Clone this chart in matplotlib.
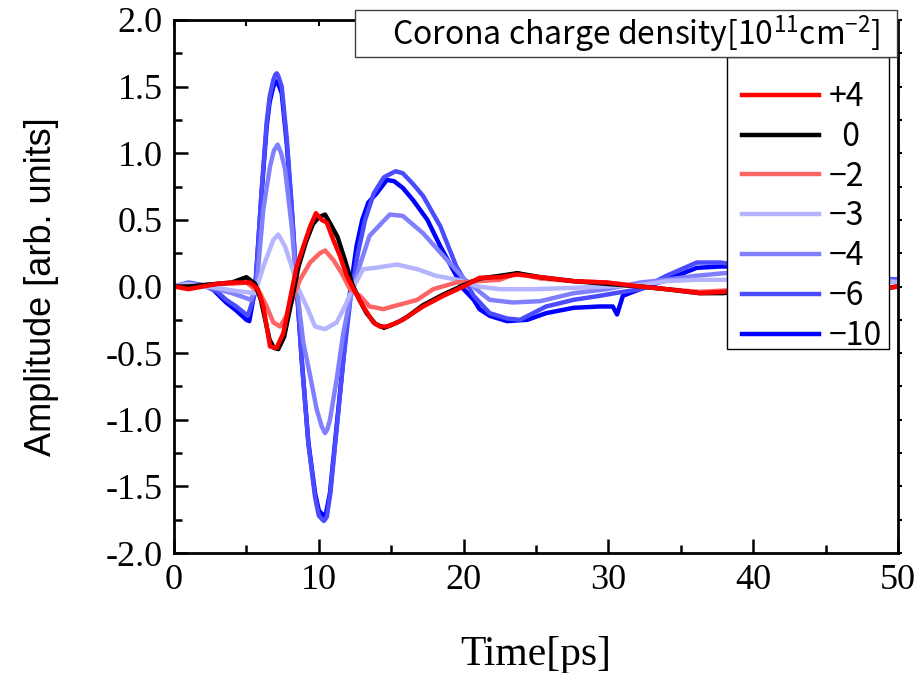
import matplotlib
matplotlib.use("Agg")
import matplotlib.pyplot as plt
from matplotlib.patches import Rectangle
from matplotlib.ticker import MultipleLocator, FormatStrFormatter, NullFormatter

plt.rcParams["axes.unicode_minus"] = False
plt.rcParams["mathtext.fontset"] = "custom"
plt.rcParams["mathtext.rm"] = "Noto Sans CJK JP"
plt.rcParams["mathtext.default"] = "rm"

SANS = ["Noto Sans CJK JP", "DejaVu Sans"]
SERIF = "Liberation Serif"

# ---------- data (time in ps, amplitude arb. units) ----------
t_p4 = [0, 1, 2, 3, 4, 4.33, 5.25, 5.8, 6.17, 6.4, 6.63, 7.09, 7.55, 8.0, 8.47, 8.93,
        9.4, 9.8, 10.2, 10.55, 11.0, 11.46, 11.93, 12.4, 13.07, 13.77, 14.2, 14.7,
        15.2, 15.8, 16.5, 17.2, 18.6, 20, 21.1, 22.5, 23.7, 25.3, 27.6, 29.9, 32.2,
        34, 36.3, 37.9, 40, 44, 48, 50]
v_p4 = [0, -0.02, 0.0, 0.02, 0.03, 0.03, 0.03, -0.02, -0.15, -0.3, -0.45, -0.46,
        -0.35, -0.1, 0.15, 0.3, 0.45, 0.55, 0.5, 0.48, 0.35, 0.23, 0.08, -0.02,
        -0.15, -0.27, -0.3, -0.3, -0.28, -0.25, -0.2, -0.15, -0.07, 0.0, 0.065,
        0.07, 0.09, 0.07, 0.04, 0.03, 0.0, -0.02, -0.05, -0.04, -0.03, -0.03,
        -0.03, 0.0]

t_0 = [0, 1, 2, 3, 4, 5.0, 5.6, 6.0, 6.3, 6.6, 6.9, 7.2, 7.6, 8.1, 8.6, 9.1, 9.6,
       10.0, 10.43, 10.9, 11.3, 11.8, 12.3, 12.8, 13.3, 13.9, 14.5, 15.0, 15.6,
       16.2, 17.2, 18.6, 20, 21.1, 22.5, 23.7, 25.3, 27.6, 29.9, 32.2, 34, 36.3,
       37.9, 40, 44, 48, 50]
v_0 = [0, 0.0, 0.01, 0.02, 0.03, 0.07, 0.02, -0.1, -0.25, -0.4, -0.46, -0.47,
       -0.38, -0.12, 0.15, 0.33, 0.47, 0.52, 0.54, 0.45, 0.37, 0.2, 0.02, -0.1,
       -0.2, -0.28, -0.31, -0.29, -0.26, -0.22, -0.14, -0.06, 0.01, 0.06, 0.08,
       0.1, 0.07, 0.04, 0.02, 0.0, -0.02, -0.05, -0.05, -0.03, -0.03, -0.03, 0.0]

t_m2 = [0, 1, 2, 3, 4, 5, 5.94, 6.4, 6.86, 7.32, 7.78, 8.24, 8.7, 9.4, 10.08, 10.43,
        11.0, 11.58, 12.15, 12.85, 13.5, 14.0, 14.45, 15.1, 15.8, 16.8, 17.9,
        19.5, 21.0, 22.5, 23.7, 25.3, 27.6, 29.9, 32.2, 34, 36.3, 38, 40, 44, 48, 50]
v_m2 = [0, 0.0, 0.01, 0.02, 0.02, 0.03, -0.05, -0.15, -0.27, -0.3, -0.22, -0.08,
        0.05, 0.18, 0.25, 0.27, 0.2, 0.1, -0.02, -0.07, -0.15, -0.16, -0.17,
        -0.15, -0.13, -0.1, -0.02, 0.03, 0.04, 0.05, 0.1, 0.06, 0.04, 0.03, 0.0,
        -0.02, -0.04, -0.03, -0.02, -0.02, -0.02, 0.0]

t_m3 = [0, 1, 2, 3, 4, 4.8, 5.6, 6.17, 6.86, 7.2, 7.67, 8.13, 8.6, 9.16, 9.74,
        10.43, 11.23, 11.8, 12.4, 13.07, 13.9, 15.4, 16.8, 18.1, 19.6, 21, 22.5,
        25, 27.6, 29.9, 32.2, 34, 36, 38, 40, 44, 48, 50]
v_m3 = [0, 0.02, 0.0, -0.01, -0.03, -0.04, -0.05, 0.15, 0.35, 0.39, 0.3, 0.15,
        -0.02, -0.15, -0.3, -0.32, -0.27, -0.15, 0.0, 0.13, 0.14, 0.165, 0.13,
        0.08, 0.05, 0.0, -0.02, -0.02, -0.01, 0.0, 0.01, 0.04, 0.05, 0.05, 0.05,
        0.05, 0.05, 0.03]

t_m4 = [0, 1, 2, 3, 4, 4.8, 5.3, 5.7, 6.17, 6.63, 6.9, 7.16, 7.4, 7.67, 8.13, 8.47,
        8.93, 9.4, 9.85, 10.2, 10.43, 10.6, 10.77, 11.23, 11.69, 12.15, 12.6,
        13.5, 14.9, 15.8, 17.2, 18.6, 20, 21.1, 21.8, 23.4, 25.3, 27.6, 29.9,
        32.2, 34, 36, 38, 40, 44, 48, 50]
v_m4 = [0, 0.02, 0.01, -0.02, -0.05, -0.08, -0.1, 0.0, 0.58, 0.9, 1.02, 1.065,
        1.0, 0.88, 0.45, 0.0, -0.42, -0.67, -0.92, -1.05, -1.1, -1.07, -1.0, -0.7,
        -0.35, -0.1, 0.08, 0.38, 0.54, 0.53, 0.4, 0.23, 0.06, -0.04, -0.1, -0.12,
        -0.11, -0.05, -0.02, 0.03, 0.05, 0.08, 0.1, 0.1, 0.08, 0.06, 0.04]

t_m6 = [0, 1, 2, 3, 3.6, 4.3, 5.1, 5.6, 6.05, 6.4, 6.6, 6.86, 7.0, 7.09, 7.2, 7.44,
        7.78, 8.13, 8.47, 8.82, 9.28, 9.74, 10.0, 10.35, 10.55, 10.8, 11.25, 11.7,
        12.2, 12.7, 13.2, 13.8, 14.5, 15.3, 15.8, 16.5, 17.2, 18.4, 19.5, 20.7,
        21.8, 23.0, 23.9, 25.7, 27.6, 29.4, 31, 32.2, 34, 36.1, 37.7, 40, 44, 48, 50]
v_m6 = [0, 0.03, 0.01, -0.04, -0.1, -0.15, -0.22, -0.05, 0.72, 1.23, 1.42, 1.55,
        1.59, 1.6, 1.58, 1.5, 1.12, 0.6, 0.02, -0.55, -1.18, -1.58, -1.72, -1.76,
        -1.73, -1.55, -1.05, -0.55, -0.08, 0.25, 0.5, 0.7, 0.82, 0.865, 0.85,
        0.77, 0.68, 0.45, 0.15, -0.07, -0.2, -0.24, -0.25, -0.15, -0.1, -0.07,
        -0.04, -0.02, 0.08, 0.18, 0.18, 0.15, 0.1, 0.07, 0.05]

t_m10 = [0, 1.1, 2.5, 2.95, 3.6, 4.3, 5.0, 5.2, 5.6, 6.05, 6.4, 6.6, 6.86, 7.0,
         7.09, 7.2, 7.44, 7.78, 8.13, 8.47, 8.82, 9.28, 9.74, 10.0, 10.31, 10.5,
         10.77, 11.23, 11.69, 12.15, 12.6, 13.0, 13.42, 14.0, 14.7, 15.2, 15.8,
         16.5, 17.5, 18.4, 19.3, 20.0, 20.7, 21.1, 21.8, 23.0, 24.4, 25.7, 27.6,
         29.4, 30.3, 30.6, 31.0, 31.7, 32.2, 34, 36.1, 37.7, 40, 44, 48, 50]
v_m10 = [0, 0.02, 0.0, -0.05, -0.12, -0.18, -0.25, -0.26, -0.02, 0.7, 1.2, 1.38,
         1.5, 1.53, 1.54, 1.52, 1.45, 1.08, 0.58, 0.0, -0.55, -1.17, -1.55, -1.68,
         -1.72, -1.70, -1.55, -1.05, -0.55, -0.05, 0.3, 0.5, 0.63, 0.7, 0.8, 0.79,
         0.74, 0.65, 0.5, 0.3, 0.12, -0.02, -0.1, -0.17, -0.22, -0.26, -0.25,
         -0.2, -0.16, -0.15, -0.15, -0.21, -0.07, -0.04, -0.02, 0.05, 0.14, 0.15,
         0.15, 0.1, 0.07, 0.05]

labels = ["+4", "  0", "\u22122", "\u22123", "\u22124", "\u22126", "\u221210"]
colors = ["#ff0000", "#000000", "#ff6464", "#b4b4ff", "#8080ff", "#4b4bff", "#0000ff"]
series = [(t_p4, v_p4), (t_0, v_0), (t_m2, v_m2), (t_m3, v_m3),
          (t_m4, v_m4), (t_m6, v_m6), (t_m10, v_m10)]

W, H = 921, 673
fig = plt.figure(figsize=(W / 100, H / 100), dpi=100)
ax = fig.add_axes([174 / W, 1 - 553 / H, (898 - 174) / W, (553 - 20) / H])

# draw strongest-negative first so red ends up on top
handles = [None] * len(series)
for i in reversed(range(len(series))):
    t, v = series[i]
    (ln,) = ax.plot(t, v, color=colors[i], lw=3.2, solid_joinstyle="round")
    handles[i] = ln

ax.set_xlim(0, 50)
ax.set_ylim(-2.0, 2.0)
ax.xaxis.set_major_locator(MultipleLocator(10))
ax.xaxis.set_minor_locator(MultipleLocator(5))
ax.yaxis.set_major_locator(MultipleLocator(0.5))
ax.yaxis.set_minor_locator(MultipleLocator(0.25))
ax.yaxis.set_major_formatter(FormatStrFormatter("%.1f"))

for s in ax.spines.values():
    s.set_linewidth(2.0)
ax.tick_params(which="major", direction="in", length=10, width=1.8,
               labelsize=26, pad=8)
ax.tick_params(which="minor", direction="in", length=6, width=1.8)
for lab in ax.get_xticklabels() + ax.get_yticklabels():
    lab.set_fontfamily(SERIF)

# small ticks on the top and right spines
top = ax.secondary_xaxis("top")
top.xaxis.set_major_locator(MultipleLocator(5))
top.xaxis.set_major_formatter(NullFormatter())
top.tick_params(direction="in", length=4, width=1.5)
top.spines["top"].set_visible(False)
right = ax.secondary_yaxis("right")
right.yaxis.set_major_locator(MultipleLocator(0.25))
right.yaxis.set_major_formatter(NullFormatter())
right.tick_params(direction="out", length=3, width=1.5)
right.spines["right"].set_visible(False)

ax.set_xlabel("Time[ps]", fontsize=30, fontfamily=SERIF, labelpad=28)
ax.set_ylabel("Amplitude [arb. units]", fontsize=26,
              fontfamily="Liberation Sans", labelpad=34)

# legend frame and title box drawn as plain rectangles (two stacked boxes)
fig.patches.append(Rectangle((727 / W, 1 - 349 / H), (889 - 727) / W, (349 - 57) / H,
                             transform=fig.transFigure, facecolor="white",
                             edgecolor="black", lw=1.0, zorder=4))
fig.patches.append(Rectangle((355 / W, 1 - 57 / H), (897 - 355) / W, 47 / H,
                             transform=fig.transFigure, facecolor="white",
                             edgecolor="#404040", lw=1.0, zorder=5))
fig.text(880 / W, 1 - 34 / H, "Corona charge density[10$^{11}$cm$^{-2}$]",
         ha="right", va="center", fontsize=23, family=SANS, zorder=6)

leg = fig.legend(handles, labels, loc="upper left",
                 bbox_to_anchor=(742 / W, 1 - 81 / H), bbox_transform=fig.transFigure,
                 borderaxespad=0, frameon=False,
                 prop={"family": SANS, "size": 23}, handlelength=2.4,
                 handletextpad=0.3, labelspacing=0.245, borderpad=0)
leg.set_zorder(7)

fig.savefig("out.png", dpi=100)
